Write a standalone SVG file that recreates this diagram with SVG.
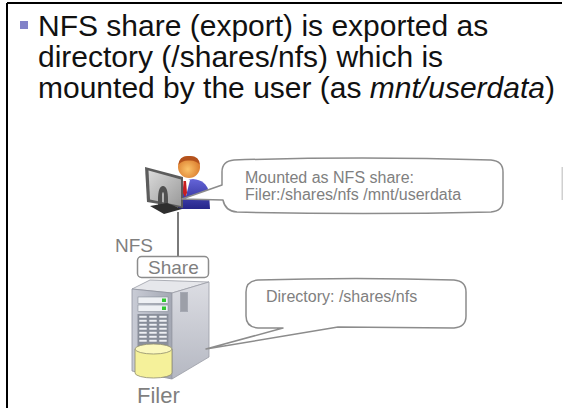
<svg xmlns="http://www.w3.org/2000/svg" width="564" height="408" viewBox="0 0 564 408">
  <style>
    .title { font-family: "Liberation Sans", Arial, sans-serif; font-size: 30px; fill: #111; }
    .lbl { font-family: "Liberation Sans", Arial, sans-serif; fill: #7f7f7f; }
    .note { font-family: "Liberation Sans", Arial, sans-serif; font-size: 16px; fill: #808080; }
    .bubble { fill: #fff; stroke: #8c8c8c; stroke-width: 1.5; stroke-linejoin: round; }
    .wire { stroke: #7a7a7a; stroke-width: 2; fill: none; }
    .slot { fill: #eef0f4; stroke: #7d828e; stroke-width: 0.5; }
  </style>
  <defs>
    <linearGradient id="suit" x1="0" y1="0" x2="0" y2="1">
      <stop offset="0" stop-color="#6464d8"/>
      <stop offset="1" stop-color="#26268a"/>
    </linearGradient>
    <radialGradient id="face" cx="0.45" cy="0.6" r="0.6">
      <stop offset="0" stop-color="#fbc36a"/>
      <stop offset="1" stop-color="#d9782a"/>
    </radialGradient>
    <linearGradient id="screen" x1="0" y1="0" x2="1" y2="1">
      <stop offset="0" stop-color="#dadada"/>
      <stop offset="1" stop-color="#9a9a9a"/>
    </linearGradient>
    <linearGradient id="front" x1="0" y1="0" x2="1" y2="0">
      <stop offset="0" stop-color="#c9ccd6"/>
      <stop offset="1" stop-color="#a3a7b3"/>
    </linearGradient>
    <linearGradient id="side" x1="0" y1="0" x2="0" y2="1">
      <stop offset="0" stop-color="#dcdde3"/>
      <stop offset="1" stop-color="#b5b8c2"/>
    </linearGradient>
  </defs>

  <!-- frame -->
  <line x1="7" y1="3" x2="562" y2="3" stroke="#000" stroke-width="2"/>
  <line x1="7" y1="3" x2="7" y2="408" stroke="#000" stroke-width="2"/>
  <rect x="561.5" y="167" width="1.5" height="33" fill="#d0d0d0"/>

  <!-- heading -->
  <g id="title">
    <rect x="20" y="21" width="8" height="8" fill="#8282c8"/>
    <text class="title" x="38" y="36">NFS share (export) is exported as</text>
    <text class="title" x="38" y="67">directory (/shares/nfs) which is</text>
    <text class="title" x="38" y="98">mounted by the user (as <tspan font-style="italic">mnt/userdata</tspan>)</text>
  </g>

  <!-- connectors -->
  <g id="connectors">
    <line class="wire" x1="178" y1="212" x2="178" y2="256"/>
  </g>

  <!-- user at workstation -->
  <g id="node-user">
    <path d="M178,209 L178,192 Q180,180 193,179 Q206,180 209,192 L210,209 Z" fill="url(#suit)"/>
    <polygon points="182,180 190,180 186,196" fill="#fff"/>
    <polygon points="183.5,181 186,181 187,193 185,197 183,193" fill="#c81e1e"/>
    <circle cx="189" cy="167" r="11" fill="url(#face)"/>
    <path d="M178.3,165 Q179,155.5 189,156 Q199.5,155.5 200,165 Q196,160 189,160.5 Q182,160 178.3,165 Z" fill="#b4521c"/>
    <!-- monitor seen from the back -->
    <polygon points="145,167 183,177 183,208 147,202" fill="#5c5c5c"/>
    <polygon points="148.5,170.5 181,179.5 181,206 150,199.5" fill="url(#screen)"/>
    <path d="M158,200 Q158,186 163,186 Q168,186 168,200 L168,207 L164,207 L164,194 Q163,190 162,194 L162,206 L158,206 Z" fill="#505050"/>
    <polygon points="150,206 167,203 182,209 164,214" fill="#2e2e2e"/>
  </g>

  <!-- NFS share label -->
  <g id="node-share">
    <text class="lbl" x="115" y="252" font-size="19">NFS</text>
    <rect x="137.5" y="256.5" width="71" height="21" rx="4" fill="#fff" stroke="#8c8c8c" stroke-width="1.5"/>
    <text class="lbl" x="148" y="274" font-size="19">Share</text>
  </g>

  <!-- filer server -->
  <g id="node-filer">
    <polygon points="132,289 150,280 209,282 172,293" fill="#e6e7eb" stroke="#9a9da6" stroke-width="0.8"/>
    <polygon points="132,289 172,293 172,379 132,371" fill="url(#front)" stroke="#8f939e" stroke-width="0.8"/>
    <polygon points="172,293 209,282 209,357 172,379" fill="url(#side)" stroke="#9a9da6" stroke-width="0.8"/>
    <!-- side vent -->
    <rect x="180" y="292" width="8" height="20" fill="#a6a9b3"/>
    <path d="M182,293 V311 M184,293 V311 M186,293 V311" stroke="#8a8d97" stroke-width="0.7"/>
    <!-- drive bays -->
    <rect x="138" y="297" width="30" height="6.5" class="slot"/>
    <rect x="138" y="305" width="30" height="6.5" class="slot"/>
    <rect x="162" y="298.5" width="4" height="3.5" fill="#32c832"/>
    <rect x="162" y="306.5" width="4" height="3.5" fill="#32c832"/>
    <rect x="137.5" y="314" width="31" height="34" fill="#8b909c"/>
    <g>
      <rect class="slot" x="139" y="315.5" width="8" height="2.5"/>
      <rect class="slot" x="149" y="315.5" width="8" height="2.5"/>
      <rect class="slot" x="159" y="315.5" width="8" height="2.5"/>
      <rect class="slot" x="139" y="319.5" width="8" height="2.5"/>
      <rect class="slot" x="149" y="319.5" width="8" height="2.5"/>
      <rect class="slot" x="159" y="319.5" width="8" height="2.5"/>
      <rect class="slot" x="139" y="323.5" width="8" height="2.5"/>
      <rect class="slot" x="149" y="323.5" width="8" height="2.5"/>
      <rect class="slot" x="159" y="323.5" width="8" height="2.5"/>
      <rect class="slot" x="139" y="327.5" width="8" height="2.5"/>
      <rect class="slot" x="149" y="327.5" width="8" height="2.5"/>
      <rect class="slot" x="159" y="327.5" width="8" height="2.5"/>
      <rect class="slot" x="139" y="331.5" width="8" height="2.5"/>
      <rect class="slot" x="149" y="331.5" width="8" height="2.5"/>
      <rect class="slot" x="159" y="331.5" width="8" height="2.5"/>
      <rect class="slot" x="139" y="335.5" width="8" height="2.5"/>
      <rect class="slot" x="149" y="335.5" width="8" height="2.5"/>
      <rect class="slot" x="159" y="335.5" width="8" height="2.5"/>
      <rect class="slot" x="139" y="339.5" width="8" height="2.5"/>
      <rect class="slot" x="149" y="339.5" width="8" height="2.5"/>
      <rect class="slot" x="159" y="339.5" width="8" height="2.5"/>
    </g>
    <!-- disk cylinder -->
    <path d="M135,349 V373 A18.5,5 0 0 0 172,373 V349 Z" fill="#f5f19a" stroke="#8e8c6c" stroke-width="0.8"/>
    <ellipse cx="153.5" cy="349" rx="18.5" ry="5" fill="#fbf8bd" stroke="#8e8c6c" stroke-width="0.8"/>
    <text class="lbl" x="137" y="403" font-size="22">Filer</text>
  </g>

  <!-- callouts -->
  <g id="callout-mount">
    <path class="bubble" d="M234,160 Q362,156 491,160 Q503,161 503,172 L503,200 Q503,211 491,212 Q362,215 237,212 Q225,211 223,200 L182,199 L222,185 L222,172 Q222,161 234,160 Z"/>
    <text class="note" x="245" y="183">Mounted as NFS share:</text>
    <text class="note" x="245" y="200">Filer:/shares/nfs /mnt/userdata</text>
  </g>
  <g id="callout-directory">
    <path class="bubble" d="M258,280 Q356,277 454,280 Q466,281 466,292 L466,316 Q466,327 454,328 L338,327 L206,349 L283,328 L258,328 Q246,327 246,316 L246,292 Q246,281 258,280 Z"/>
    <text class="note" x="266" y="302">Directory: /shares/nfs</text>
  </g>
</svg>
